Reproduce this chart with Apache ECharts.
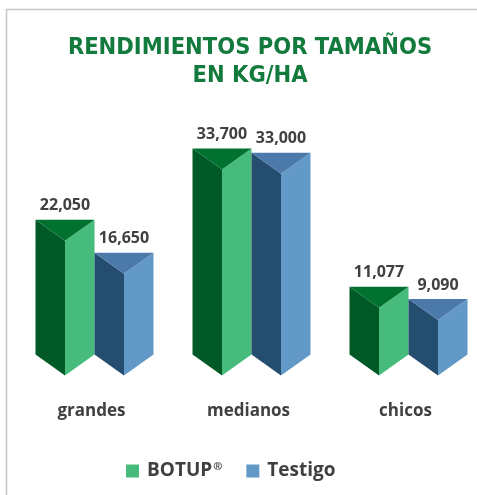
<!DOCTYPE html>
<html>
<head>
<meta charset="utf-8">
<script src="https://cdn.jsdelivr.net/npm/echarts@6/dist/echarts.min.js"></script>
<style>
html, body { margin: 0; padding: 0; background: #fff; }
#main { width: 477px; height: 495px; }
</style>
</head>
<body>
<div id="main"></div>
<script>
// datos
var categorias = ['grandes', 'medianos', 'chicos'];
var botup = [22050, 33700, 11077];
var testigo = [16650, 33000, 9090];
var nombres = ['BOTUP®', 'Testigo'];

// colores de las caras: izquierda, arriba, derecha
var caras = [
	['#005a28', '#00712f', '#47bb7c'],
	['#244d70', '#4a79aa', '#6399c7']
];

var ANCHO = 59, PROF = 21;

function prisma(idx) {
	return function(params, api) {
		var cat = api.value(0);
		var v = api.value(1);
		var top = api.coord([cat, v]);
		var base = api.coord([cat, 0]);
		var x0 = idx === 0 ? top[0] - ANCHO : top[0];
		var x1 = x0 + ANCHO;
		var xm = x0 + ANCHO / 2;
		var yt = top[1], yb = base[1];
		var c = caras[idx];
		return {
			type: 'group',
			children: [
				{ type: 'polygon', shape: { points: [[x0, yt], [xm, yt + PROF], [xm, yb + PROF], [x0, yb]] }, style: { fill: c[0] } },
				{ type: 'polygon', shape: { points: [[xm, yt + PROF], [x1, yt], [x1, yb], [xm, yb + PROF]] }, style: { fill: c[2] } },
				{ type: 'polygon', shape: { points: [[x0, yt], [x1, yt], [xm, yt + PROF]] }, style: { fill: c[1] } },
				{ type: 'text', style: {
					text: v.toLocaleString('en-US'), x: xm, y: yt - 14,
					align: 'center', verticalAlign: 'middle',
					font: 'bold 16px "Open Sans"', fill: '#404040'
				} }
			]
		};
	};
}

function datos(arr) {
	return arr.map(function(v, i) { return [i, v]; });
}

var myChart = echarts.init(document.getElementById('main'));

var option = {
	animation: false,
	graphic: [{
		type: 'rect',
		shape: { x: 6.5, y: 9.5, width: 490, height: 500 },
		style: { fill: 'none', stroke: '#c8c8c8', lineWidth: 1.5 }
	}],
	title: {
		text: 'RENDIMIENTOS POR TAMAÑOS\nEN KG/HA',
		left: 245, top: 29, textAlign: 'center',
		textStyle: {
			fontFamily: '"DejaVu Sans Condensed", "Liberation Sans"', fontWeight: 'bold',
			fontSize: 23.5, color: '#117a3c', lineHeight: 28
		}
	},
	legend: {
		left: 126, top: 461, padding: 0,
		itemWidth: 13, itemHeight: 13, itemGap: 24, icon: 'rect',
		formatter: function(name) {
			// ® en superíndice
			return name.indexOf('®') >= 0 ? '{t|' + name.replace('®', '') + '}{r|®}' : '{t|' + name + '}';
		},
		textStyle: {
			padding: [0, 0, 0, 3],
			rich: {
				t: { fontFamily: 'Open Sans', fontWeight: 'bold', fontSize: 19, color: '#404040', height: 20 },
				r: { fontFamily: 'Open Sans', fontWeight: 'bold', fontSize: 11, color: '#404040', verticalAlign: 'top', padding: [0, 0, 8, 1] }
			}
		},
		data: nombres
	},
	grid: { left: 16, width: 471, top: 110, bottom: 140.4, outerBoundsMode: 'none' },
	xAxis: {
		type: 'category',
		data: categorias,
		axisLine: { show: false },
		axisTick: { show: false },
		axisLabel: { margin: 48, padding: [0, 6, 0, 0], fontFamily: 'Open Sans', fontWeight: 'bold', fontSize: 17, color: '#404040' }
	},
	yAxis: {
		type: 'value', min: 0, max: 40000,
		show: false
	},
	series: [
		{ name: nombres[0], type: 'custom', renderItem: prisma(0), data: datos(botup), itemStyle: { color: caras[0][2] } },
		{ name: nombres[1], type: 'custom', renderItem: prisma(1), data: datos(testigo), itemStyle: { color: caras[1][2] } }
	]
};

myChart.setOption(option);
</script>
</body>
</html>
